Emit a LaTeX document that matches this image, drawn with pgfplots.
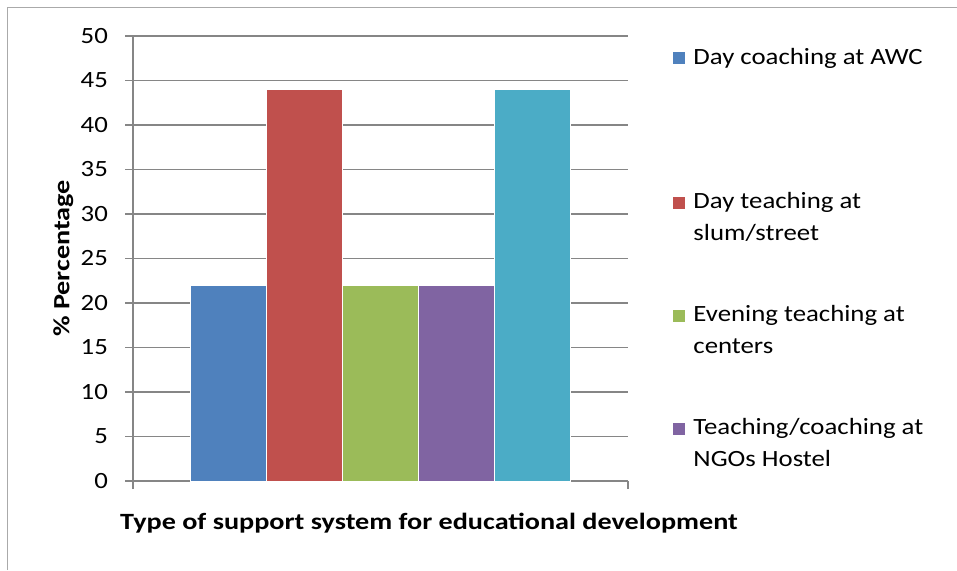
\documentclass[border=0pt]{standalone}
\usepackage{fontspec}
\setmainfont{Carlito}[FakeStretch=1.15]
\newfontfamily\labfont{Carlito}[FakeStretch=1.21]
\usepackage{pgfplots}
\pgfplotsset{compat=1.18}
\definecolor{cA}{HTML}{4F81BD}
\definecolor{cB}{HTML}{C0504D}
\definecolor{cC}{HTML}{9BBB59}
\definecolor{cD}{HTML}{8064A2}
\definecolor{cE}{HTML}{4BACC6}
\definecolor{gridc}{HTML}{868686}
\pgfplotsset{
  sqlow/.style={legend image code/.code={\fill[##1,draw=none] (0pt,0pt) rectangle (6pt,6pt);}},
  sqhigh/.style={legend image code/.code={\fill[##1,draw=none] (0pt,15.85pt) rectangle (6pt,21.85pt);}},
}
\begin{document}
\fontsize{11.65pt}{15.85pt}\selectfont
\begin{tikzpicture}
\useasboundingbox (0,0) rectangle (478.5pt,285pt);
\draw[gridc!70, line width=0.5pt] (3.5pt,0pt) -- (3.5pt,281.5pt) -- (478.5pt,281.5pt);
\begin{axis}[
  at={(66.5pt,44.5pt)}, anchor=south west,
  scale only axis, width=247.5pt, height=222.5pt,
  ybar, bar shift=0pt, bar width=1,
  xmin=-1.25, xmax=5.25, ymin=0, ymax=50,
  ytick={0,5,...,50},
  xtick={-1.25,5.25}, xticklabels={},
  axis x line*=bottom, axis y line*=left,
  axis line style={draw=gridc, line width=0.6pt},
  tick style={draw=gridc, line width=0.6pt},
  tick align=outside, major tick length=4pt,
  ymajorgrids, grid style={draw=gridc, line width=0.6pt},
  /pgf/number format/assume math mode=true,
  tick label style={font=\fontsize{11.65pt}{13pt}\selectfont, text=black},
  yticklabel style={xshift=-4.5pt},
  ylabel={{\labfont\bfseries \% Percentage}},
  ylabel style={at={(axis description cs:-0.141,0.5)}, anchor=center},
  xlabel={{\labfont\bfseries Type of support system for educational development}},
  xlabel style={at={(axis description cs:0.598,-0.094)}, anchor=center},
  legend cell align=left,
  legend style={draw=none, fill=none, inner sep=0pt,
    at={(axis description cs:1.091,0.987)}, anchor=north west,
    cells={anchor=base west},
    nodes={inner sep=0pt, align=left},
    row sep=27.8pt,
    /tikz/every odd column/.style={column sep=4pt}},
]
\addplot[fill=cA, draw=white, line width=0.5pt, sqlow] coordinates {(0,22)};
\addplot[fill=cB, draw=white, line width=0.5pt, sqhigh] coordinates {(1,44)};
\addplot[fill=cC, draw=white, line width=0.5pt, sqhigh] coordinates {(2,22)};
\addplot[fill=cD, draw=white, line width=0.5pt, sqhigh] coordinates {(3,22)};
\addplot[fill=cE, draw=white, line width=0.5pt, forget plot] coordinates {(4,44)};
\legend{{\strut Day coaching at AWC}, {\rule{0pt}{42.6pt}Day teaching at\\slum/street\strut}, {\strut Evening teaching at\\centers\strut}, {\strut Teaching/coaching at\\NGOs Hostel\strut}}
\end{axis}
\end{tikzpicture}
\end{document}
